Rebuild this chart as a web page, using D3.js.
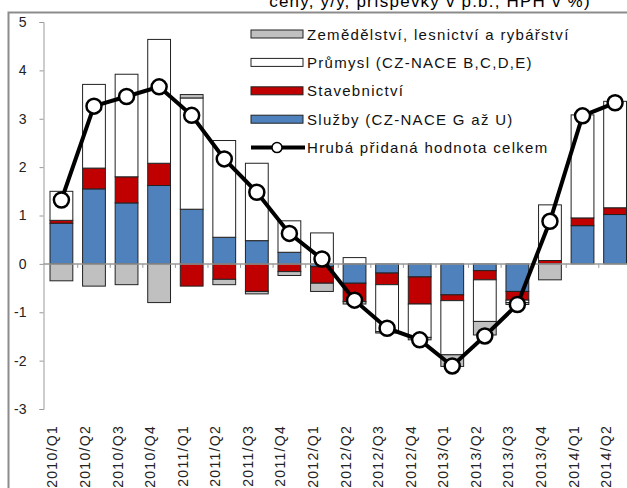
<!DOCTYPE html>
<html>
<head>
<meta charset="utf-8">
<script src="https://cdn.jsdelivr.net/npm/d3@7"></script>
<style>
    body { margin: 0; background: #fff; }
    svg { display: block; font-family: "Liberation Sans", Arial, sans-serif; }
</style>
</head>
<body>
<svg id="chart"></svg>
<script>
const quarters = ["2010/Q1", "2010/Q2", "2010/Q3", "2010/Q4", "2011/Q1", "2011/Q2", "2011/Q3", "2011/Q4",
    "2012/Q1", "2012/Q2", "2012/Q3", "2012/Q4", "2013/Q1", "2013/Q2", "2013/Q3", "2013/Q4", "2014/Q1", "2014/Q2"];
const services = [0.84, 1.55, 1.26, 1.62, 1.13, 0.55, 0.48, 0.24, -0.06, -0.40, -0.19, -0.27, -0.64, -0.14, -0.57, 0.00, 0.79, 1.02];
const construction = [0.06, 0.43, 0.54, 0.46, -0.46, -0.32, -0.57, -0.16, -0.34, -0.38, -0.24, -0.56, -0.12, -0.19, -0.18, 0.07, 0.16, 0.14];
const industry = [0.60, 1.73, 2.12, 2.56, 2.30, 2.00, 1.60, 0.65, 0.64, 0.13, -0.97, -0.69, -1.12, -0.86, -0.05, 1.15, 2.13, 2.20];
const agriculture = [-0.35, -0.46, -0.43, -0.80, 0.07, -0.11, -0.05, -0.08, -0.17, -0.05, -0.03, -0.05, -0.24, -0.28, -0.04, -0.33, 0.00, 0.00];
const total = [1.32, 3.26, 3.46, 3.66, 3.07, 2.17, 1.48, 0.63, 0.10, -0.75, -1.33, -1.57, -2.11, -1.49, -0.84, 0.88, 3.06, 3.33];
const yTicks = [-3, -2, -1, 0, 1, 2, 3, 4, 5];
const title = "ceny, y/y, příspěvky v p.b., HPH v %)";

// stacking order from zero outward
const series = [
    { key: "services", label: "Služby (CZ-NACE G až U)", values: services, color: "#4f81bd" },
    { key: "construction", label: "Stavebnictví", values: construction, color: "#c00000" },
    { key: "industry", label: "Průmysl (CZ-NACE B,C,D,E)", values: industry, color: "#ffffff" },
    { key: "agriculture", label: "Zemědělství, lesnictví a rybářství", values: agriculture, color: "#c0c0c0" }
];
const lineLabel = "Hrubá přidaná hodnota celkem";

class ContribChart {

    constructor(config) {
        this.config = {
            parent: config.parent,
            width: config.width || 627,
            height: config.height || 488
        };
        this.init();
    }

    init() {
        let self = this;

        self.svg = d3.select(self.config.parent)
            .attr('width', self.config.width)
            .attr('height', self.config.height);

        self.x = d3.scaleBand()
            .domain(quarters)
            .range([43.5, 633])
            .paddingInner(0.3)
            .paddingOuter(0.2);

        self.y = d3.scaleLinear()
            .domain([-3, 5])
            .range([409, 22]);

        self.rows = quarters.map((q, i) => {
            let row = { q: q };
            series.forEach(s => row[s.key] = s.values[i]);
            return row;
        });

        self.stack = d3.stack()
            .keys(series.map(s => s.key))
            .offset(d3.stackOffsetDiverging);
    }

    render() {
        let self = this;
        let x = self.x, y = self.y;

        // frame
        self.svg.append('rect')
            .attr('x', 8.5).attr('y', 12.5)
            .attr('width', 700).attr('height', 600)
            .attr('fill', '#fff')
            .attr('stroke', '#8c8c8c')
            .attr('stroke-width', 2);

        self.svg.append('text')
            .attr('x', 430).attr('y', 7)
            .attr('text-anchor', 'middle')
            .style('font-size', '17px')
            .style('letter-spacing', '1.2px')
            .text(title);

        // y axis
        let yAxis = self.svg.append('g')
            .attr('transform', 'translate(43.5,0)')
            .call(d3.axisLeft(y).tickValues(yTicks).tickSize(4).tickPadding(13).tickFormat(d => String(d)));
        yAxis.selectAll('path, line').attr('stroke', '#999');
        yAxis.selectAll('text').style('font-size', '14px').attr('fill', '#222');

        // bars
        let layers = self.svg.append('g').selectAll('g')
            .data(self.stack(self.rows)).enter()
            .append('g')
            .attr('fill', (d, i) => series[i].color);

        layers.selectAll('rect')
            .data(d => d).enter()
            .append('rect')
            .attr('x', d => x(d.data.q))
            .attr('width', x.bandwidth())
            .attr('y', d => y(Math.max(d[0], d[1])))
            .attr('height', d => Math.abs(y(d[0]) - y(d[1])))
            .attr('stroke', '#222')
            .attr('stroke-width', 1);

        // zero line with category ticks
        let gap = x.step() * x.paddingInner() / 2;
        self.svg.append('line')
            .attr('x1', 43.5).attr('x2', 640)
            .attr('y1', y(0)).attr('y2', y(0))
            .attr('stroke', '#999').attr('stroke-width', 1.5);
        self.svg.append('g').selectAll('line')
            .data(quarters.slice(1)).enter()
            .append('line')
            .attr('x1', d => x(d) - gap).attr('x2', d => x(d) - gap)
            .attr('y1', y(0)).attr('y2', y(0) + 4)
            .attr('stroke', '#999');

        // x labels
        self.svg.append('g').selectAll('text')
            .data(quarters).enter()
            .append('text')
            .attr('transform', d => `translate(${x(d) + x.bandwidth() / 2 - 4},425) rotate(-90)`)
            .attr('text-anchor', 'end')
            .style('font-size', '14px')
            .style('letter-spacing', '1.3px')
            .attr('fill', '#222')
            .text(d => d);

        // total line
        let line = d3.line()
            .x((d, i) => x(quarters[i]) + x.bandwidth() / 2)
            .y(d => y(d));

        self.svg.append('path')
            .datum(total)
            .attr('d', line)
            .attr('fill', 'none')
            .attr('stroke', '#000')
            .attr('stroke-width', 4);

        self.svg.append('g').selectAll('circle')
            .data(total).enter()
            .append('circle')
            .attr('cx', (d, i) => x(quarters[i]) + x.bandwidth() / 2)
            .attr('cy', d => y(d))
            .attr('r', 7.5)
            .attr('fill', '#fff')
            .attr('stroke', '#000')
            .attr('stroke-width', 2.5);

        self.renderLegend();
    }

    renderLegend() {
        let self = this;
        let items = series.slice().reverse();
        let legend = self.svg.append('g').attr('transform', 'translate(251,34)');

        let rows = legend.selectAll('g')
            .data(items).enter()
            .append('g')
            .attr('transform', (d, i) => `translate(0,${i * 28.4})`);

        rows.append('rect')
            .attr('x', 0).attr('y', -4)
            .attr('width', 52).attr('height', 8)
            .attr('fill', d => d.color)
            .attr('stroke', '#222');

        rows.append('text')
            .attr('x', 56).attr('y', 5.5)
            .style('font-size', '15px')
            .style('letter-spacing', '1.3px')
            .attr('fill', '#111')
            .text(d => d.label);

        let lineRow = legend.append('g').attr('transform', `translate(0,${4 * 28.4})`);
        lineRow.append('line')
            .attr('x1', 0).attr('x2', 54)
            .attr('stroke', '#000').attr('stroke-width', 4);
        lineRow.append('circle')
            .attr('cx', 26).attr('r', 5)
            .attr('fill', '#fff').attr('stroke', '#000').attr('stroke-width', 1.5);
        lineRow.append('text')
            .attr('x', 56).attr('y', 5.5)
            .style('font-size', '15px')
            .style('letter-spacing', '1.3px')
            .attr('fill', '#111')
            .text(lineLabel);
    }
}

let chart = new ContribChart({ parent: '#chart', width: 627, height: 488 });
chart.render();
</script>
</body>
</html>
